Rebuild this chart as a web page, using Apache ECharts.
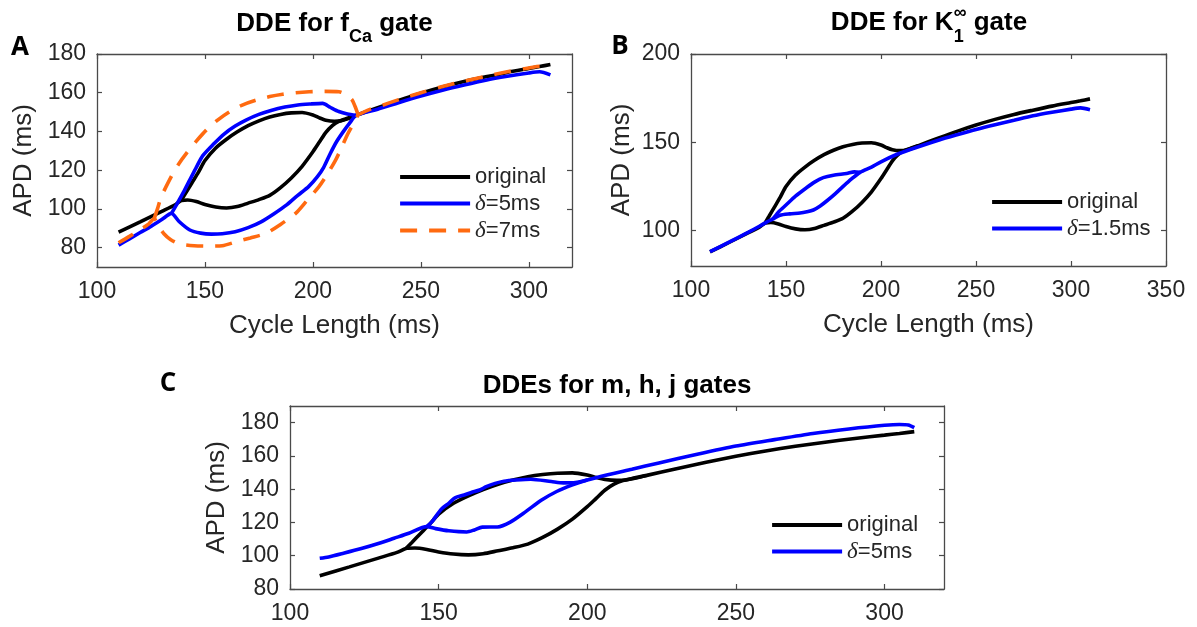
<!DOCTYPE html>
<html><head><meta charset="utf-8">
<script src="https://cdn.jsdelivr.net/npm/echarts@6/dist/echarts.min.js"></script>
<style>html,body{margin:0;padding:0;background:#fff}#c{width:1197px;height:627px}</style>
</head><body><div id="c"></div>
<script>
// ---------- DATA ----------
// "original" curve (same in all three panels): main branch and upper branch of the loop
const origMainCL  = [110,120,130,136,139,142,146,150,155,160,165,170,175,180,185,190,195,200,203,206,209,212,216,220,230,240,250,260,270,280,290,300,305,310];
const origMainAPD = [88,93.3,98.7,102,104.3,104.6,103.8,102.3,101,100.5,101.2,103,104.8,107,111,116,122,129.5,134.5,139.5,143,145.2,146.8,148.3,152.3,156.2,159.8,163,165.8,168.2,170.5,172.5,173.5,174.6];
const origUpperCL  = [139,141,144,147,150,155,160,165,170,175,180,185,190,195,200,203,206,210,213,216,220];
const origUpperAPD = [104.4,108,113.5,119,125,131.5,136,139.8,143,145.5,147.5,148.8,149.6,149.8,148.5,147,145.8,145.3,145.5,146.5,148.3];

// Panel A, delta = 5 ms
const aD5MainCL  = [110,115,120,125,130,134.5,138,143,148,153,158,164,170,176,182,188,193,198,202,205,208,211,214,217,220,230,240,250,260,270,280,290,300,305,310];
const aD5MainAPD = [81.3,84.5,87.8,91,94.5,97.7,93.5,89.1,87.5,87,87.2,88.2,90.3,93.3,97.5,102.2,107,111.5,116.5,121.5,128.5,134.8,139.8,144.3,148.3,151.5,155,158.3,161.3,164,166.5,168.5,170.2,170.8,169.2];
const aD5UpperCL  = [134.5,137,140,143,146,149,154,159,164,169,175,181,187,193,199,204.5,208,212,216,220];
const aD5UpperAPD = [97.7,102.5,108.5,115,121.5,127.5,133.5,138.8,142.8,145.9,148.8,151,152.6,153.7,154.2,154.5,152.5,150.3,149,148.3];

// Panel A, delta = 7 ms
const aD7MainCL  = [110,115,120,124,126.5,128.5,131,134,138,145,152,158,164.4,171,178.2,185,192,197,202.8,207,210.5,213,215.9,218,219.8,221,225,230,240,250,260,270,280,290,300,305,310];
const aD7MainAPD = [82.5,85.8,89.3,92.3,95,91,87.2,84.2,82,81,80.8,81,83,85,87.4,92,97.7,104,111.5,118.5,125.2,131,138.2,142.5,145.9,148.5,150.8,152.7,156.5,160,163.2,166,168.5,170.8,172.8,173.7,172.5];
const aD7UpperCL  = [126.5,128,129.5,132,135.2,138,141.4,146,150.6,156,161.4,167,173.7,180,186,192,198.3,205,212.1,215.5,218.2,219.5,220.5,221];
const aD7UpperAPD = [95,100,105.5,111.5,118.4,123.5,128.7,135,140.7,146,150.2,153.5,156.2,158,159.2,160,160.5,160.7,160.5,159,156.2,153,150,148.5];

// Panel B, delta = 1.5 ms
const bD15MainCL  = [110,120,130,136,140,143,146.8,152,157.4,161,164.4,168,171.4,176,180.2,184.5,189,195,200,208.2,215,231,240,250,260,270,280,290,300,305,310];
const bD15MainAPD = [88.1,93.5,99,102.5,105,106.5,108.7,109.5,110,110.7,111.7,114,116.8,121,125.2,129.3,133,136,139,143.1,145.8,151.5,154.3,157.3,160,162.5,165,167,168.8,169.5,168.5];
const bD15UpperCL  = [143,146,150,155,160.8,165,169.6,175,181.9,186,189];
const bD15UpperAPD = [106.5,110.5,114.5,119.5,124.3,127.5,130,131.4,132.4,133.3,133];

// Panel C, delta = 5 ms
const cD5MainCL  = [110,113,118,124,130,135,140,146,149,153.4,159.5,162,164.7,169.8,174.1,179.3,184.5,189.7,194.8,200,206.9,215,224.1,237,250,263,275.9,288,300,305,308,310];
const cD5MainAPD = [98.5,99.3,101.5,104.3,107.5,110.5,113.5,117.5,116.3,115,114.3,115.5,117.2,117.3,120.2,126.5,133.3,138.6,142.4,145.5,148.7,152,155.8,161,165.9,169.8,173.5,176.2,178.4,178.9,178.6,177];
const cD5UpperCL  = [146,148,150.9,153.4,155.5,158.6,161,163.8,166,169,172,176,181,187.9,192,196,200];
const cD5UpperAPD = [117.5,121,128,131.5,134.8,136.5,138,139.5,141.5,143.5,144.8,145.5,146,144.6,143.8,144,145.5];

// Tick labels
const aXTicks = [100,150,200,250,300];
const aYTicks = [80,100,120,140,160,180];
const bXTicks = [100,150,200,250,300,350];
const bYTicks = [100,150,200];
const cXTicks = [100,150,200,250,300];
const cYTicks = [80,100,120,140,160,180];

// Texts
const xName = 'Cycle Length (ms)';
const yName = 'APD (ms)';

// ---------- STYLE ----------
const FF = '"Liberation Sans", Arial, sans-serif';
const TXT = '#262626';
const AX = '#4a4a4a';
const BLACK = '#000000', BLUE = '#0000ff', ORANGE = '#ff6a10';
const LW = 3.6;

const pts = (xs, ys) => xs.map((x, i) => [x, ys[i]]);

const grids = [
  {left: 97,  top: 54,  width: 475, height: 213},
  {left: 691, top: 54,  width: 475, height: 212},
  {left: 290, top: 406, width: 654, height: 183}
].map(g => Object.assign({outerBoundsMode: 'none', containLabel: false}, g));

const xAxes = [], yAxes = [];
function addAxes(gi, xmin, xmax, xt, ymin, ymax, yt, xn, yGap) {
  const common = {gridIndex: gi, type: 'value', splitLine: {show: false},
    axisLine: {show: true, onZero: false, lineStyle: {color: AX, width: 1.3}}};
  xAxes.push(Object.assign({}, common, {min: xmin, max: xmax, position: 'bottom',
    axisTick: {show: true, inside: true, length: 5, customValues: xt, lineStyle: {color: AX, width: 1.2}},
    axisLabel: {show: true, customValues: xt, fontSize: 23, color: TXT, fontFamily: FF, margin: 13},
    name: xn || '', nameLocation: 'middle', nameGap: 46,
    nameTextStyle: {fontSize: 26, color: TXT, fontFamily: FF}}));
  xAxes.push(Object.assign({}, common, {min: xmin, max: xmax, position: 'top',
    axisTick: {show: true, inside: true, length: 5, customValues: xt, lineStyle: {color: AX, width: 1.2}},
    axisLabel: {show: false}}));
  yAxes.push(Object.assign({}, common, {min: ymin, max: ymax, position: 'left',
    axisTick: {show: true, inside: true, length: 5, customValues: yt, lineStyle: {color: AX, width: 1.2}},
    axisLabel: {show: true, customValues: yt, fontSize: 23, color: TXT, fontFamily: FF, margin: 11},
    name: yName, nameLocation: 'middle', nameGap: yGap,
    nameTextStyle: {fontSize: 26, color: TXT, fontFamily: FF}}));
  yAxes.push(Object.assign({}, common, {min: ymin, max: ymax, position: 'right',
    axisTick: {show: true, inside: true, length: 5, customValues: yt, lineStyle: {color: AX, width: 1.2}},
    axisLabel: {show: false}}));
}
addAxes(0, 100, 320, aXTicks, 70, 180, aYTicks, xName, 60);
addAxes(1, 100, 350, bXTicks, 80, 200, bYTicks, xName, 56);
addAxes(2, 100, 320, cXTicks, 80, 190, cYTicks, '', 56);

function line(name, gi, xs, ys, color, dashed, z) {
  return {type: 'line', name, xAxisIndex: 2 * gi, yAxisIndex: 2 * gi,
    data: pts(xs, ys), symbol: 'none', showSymbol: false, smooth: 0.25,
    lineStyle: {color, width: LW, type: dashed ? [17, 12] : 'solid', cap: 'butt'},
    itemStyle: {color}, z: z, animation: false, silent: true};
}

const series = [
  line('original', 0, origMainCL, origMainAPD, BLACK, false, 2),
  line('original', 0, origUpperCL, origUpperAPD, BLACK, false, 2),
  line('δ=5ms', 0, aD5MainCL, aD5MainAPD, BLUE, false, 3),
  line('δ=5ms', 0, aD5UpperCL, aD5UpperAPD, BLUE, false, 3),
  line('δ=7ms', 0, aD7MainCL, aD7MainAPD, ORANGE, true, 4),
  line('δ=7ms', 0, aD7UpperCL, aD7UpperAPD, ORANGE, true, 4),
  line('original', 1, origMainCL, origMainAPD, BLACK, false, 2),
  line('original', 1, origUpperCL, origUpperAPD, BLACK, false, 2),
  line('δ=1.5ms', 1, bD15MainCL, bD15MainAPD, BLUE, false, 3),
  line('δ=1.5ms', 1, bD15UpperCL, bD15UpperAPD, BLUE, false, 3),
  line('original', 2, origMainCL, origMainAPD, BLACK, false, 2),
  line('original', 2, origUpperCL, origUpperAPD, BLACK, false, 2),
  line('δ=5ms', 2, cD5MainCL, cD5MainAPD, BLUE, false, 3),
  line('δ=5ms', 2, cD5UpperCL, cD5UpperAPD, BLUE, false, 3)
];

const legendRich = {
  i: {fontStyle: 'italic', fontFamily: '"Liberation Serif", serif', fontSize: 23, color: TXT},
  n: {fontFamily: FF, fontSize: 22, color: TXT}
};
const legendFmt = name => name.charAt(0) === 'δ' ? '{i|δ}{n|' + name.slice(1) + '}' : '{n|' + name + '}';
function legend(names, left, top) {
  return {data: names, left, top, orient: 'vertical', itemWidth: 70, itemHeight: 12, itemGap: 4,
    selectedMode: false, padding: 0, formatter: legendFmt,
    itemStyle: {opacity: 0},
    lineStyle: {width: 4.2},
    textStyle: {fontSize: 22, lineHeight: 22, color: TXT, fontFamily: FF, rich: legendRich}};
}

// ---------- TITLES (measured rich segments) ----------
const mctx = document.createElement('canvas').getContext('2d');
function tw(t, f) { mctx.font = f; return mctx.measureText(t).width; }
const TF = 'bold 26px "Liberation Sans"';
const SF = 'bold 18px "Liberation Sans"';
function titleParts(cx, cy, segs) {
  const widths = segs.map(s => s.stack ? Math.max(...s.stack.map(q => tw(q.t, q.f))) : tw(s.t, s.f));
  const total = widths.reduce((a, b) => a + b, 0);
  let x = cx - total / 2;
  const els = [];
  segs.forEach((s, i) => {
    const parts = s.stack || [s];
    parts.forEach(q => els.push({type: 'text', x: x, y: cy + (q.dy || 0), silent: true,
      style: {text: q.t, font: q.f, fill: '#000', textAlign: 'left', textVerticalAlign: 'middle'}}));
    x += widths[i];
  });
  return els;
}
const graphics = [].concat(
  titleParts(334.5, 24, [{t: 'DDE for f', f: TF}, {t: 'Ca', f: SF, dy: 13}, {t: ' gate', f: TF}]),
  titleParts(929, 23, [{t: 'DDE for K', f: TF}, {stack: [{t: '1', f: SF, dy: 14}, {t: '∞', f: SF, dy: -10}]}, {t: ' gate', f: TF}]),
  titleParts(617, 386, [{t: 'DDEs for m, h, j gates', f: TF}]),
  [
    {type: 'text', x: 20, y: 48, silent: true, style: {text: 'A', font: 'bold 26px "Open Sans"', fill: '#000', textAlign: 'center', textVerticalAlign: 'middle'}},
    {type: 'text', x: 620, y: 47, silent: true, style: {text: 'B', font: 'bold 26px "Open Sans"', fill: '#000', textAlign: 'center', textVerticalAlign: 'middle'}},
    {type: 'text', x: 168, y: 384, silent: true, style: {text: 'C', font: 'bold 26px "Open Sans"', fill: '#000', textAlign: 'center', textVerticalAlign: 'middle'}}
  ]
);

const chart = echarts.init(document.getElementById('c'));
chart.setOption({
  animation: false,
  backgroundColor: '#ffffff',
  grid: grids,
  xAxis: xAxes,
  yAxis: yAxes,
  legend: [
    legend(['original', 'δ=5ms', 'δ=7ms'], 398, 166),
    legend(['original', 'δ=1.5ms'], 990, 191),
    legend(['original', 'δ=5ms'], 770, 514)
  ],
  graphic: graphics,
  series: series
});
</script>
</body></html>
